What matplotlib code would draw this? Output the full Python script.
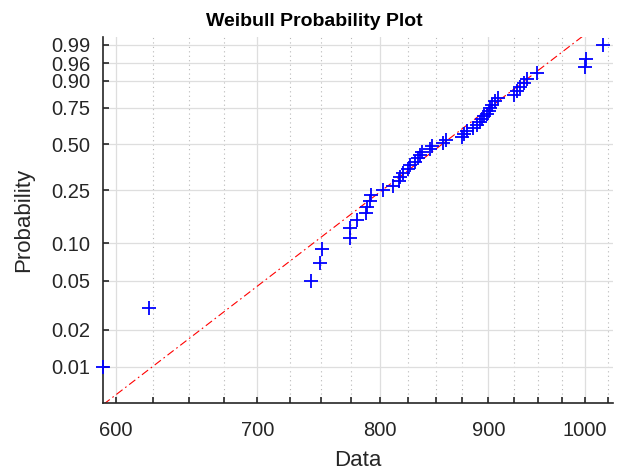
import numpy as np
import matplotlib
matplotlib.use("Agg")
import matplotlib.pyplot as plt
from matplotlib.ticker import FixedLocator, NullFormatter

# sorted sample values (n = 50)
data = [591.6, 622.0, 742.0, 749.4, 750.9, 774.3, 774.3, 780.3, 788.0, 788.5,
        791.4, 792.0, 802.9, 811.7, 816.2, 817.6, 820.4, 824.9, 826.4, 830.8,
        833.7, 835.6, 837.2, 844.4, 846.2, 856.9, 859.3, 874.5, 876.7, 879.2,
        885.3, 889.2, 892.1, 893.7, 896.0, 898.6, 900.2, 901.8, 903.5, 906.8,
        910.0, 925.0, 928.5, 931.8, 935.2, 938.6, 948.9, 1000.0, 1000.8, 1020.1]

# reference line (fitted weibull)
fit_scale = 879.7
fit_shape = 13.42

prob_ticks = [0.01, 0.02, 0.05, 0.10, 0.25, 0.50, 0.75, 0.90, 0.96, 0.99]
prob_labels = ["0.01", "0.02", "0.05", "0.10", "0.25", "0.50", "0.75", "0.90", "0.96", "0.99"]
x_major = [600, 700, 800, 900, 1000]
x_minor = [625, 650, 675, 725, 750, 775, 825, 850, 875, 925, 950, 975, 1025]

plt.rcParams['font.family'] = ['Liberation Sans', 'DejaVu Sans']
dark = '#262626'


def fwd(p):
    p = np.clip(np.asarray(p, dtype=float), 1e-12, 1 - 1e-12)
    return np.log(-np.log(1 - p))


def inv(g):
    return 1 - np.exp(-np.exp(np.asarray(g, dtype=float)))


n = len(data)
pp = (np.arange(1, n + 1) - 0.5) / n   # plotting positions

fig = plt.figure(figsize=(6.2, 4.7), dpi=100)
ax = fig.add_axes([0.166, 0.142, 0.823, 0.779])

ax.set_xscale('log')
ax.set_yscale('function', functions=(fwd, inv))

# reference line over the whole x range
xl = np.linspace(560, 1060, 200)
pl = 1 - np.exp(-(xl / fit_scale) ** fit_shape)
ax.plot(xl, pl, color='red', lw=0.8, linestyle=(0, (7, 3, 1.5, 3)), zorder=2)

ax.plot(data, pp, '+', color='blue', ms=10, mew=1.3, zorder=3, clip_on=False)

ax.set_xlim(591.6, 1031)
ax.set_ylim(0.25 / n, 1 - 0.25 / n)

ax.xaxis.set_major_locator(FixedLocator(x_major))
ax.xaxis.set_minor_locator(FixedLocator(x_minor))
ax.xaxis.set_major_formatter(plt.FixedFormatter([str(v) for v in x_major]))
ax.xaxis.set_minor_formatter(NullFormatter())
ax.yaxis.set_major_locator(FixedLocator(prob_ticks))
ax.yaxis.set_major_formatter(plt.FixedFormatter(prob_labels))
ax.yaxis.set_minor_locator(FixedLocator([]))

ax.grid(True, which='major', axis='both', color='#dedede', lw=0.9, linestyle='-', zorder=0)
ax.grid(True, which='minor', axis='x', color='#b8b8b8', lw=0.8, linestyle=(0, (1, 3)), zorder=0)
ax.set_axisbelow(True)

for s in ['top', 'right']:
    ax.spines[s].set_visible(False)
for s in ['left', 'bottom']:
    ax.spines[s].set_color(dark)
    ax.spines[s].set_linewidth(1.2)

ax.tick_params(axis='both', which='both', direction='in', length=4, width=1.2,
               color=dark, labelcolor=dark, labelsize=14.5)
ax.tick_params(axis='x', which='major', pad=13)
ax.tick_params(axis='y', which='major', pad=9)

ax.set_xlabel('Data', fontsize=16, color=dark, labelpad=7)
ax.set_ylabel('Probability', fontsize=16, color=dark, labelpad=12)
ax.set_title('Weibull Probability Plot', fontsize=14, fontweight='bold', pad=8, x=0.414)

fig.savefig('out.png', dpi=100)
